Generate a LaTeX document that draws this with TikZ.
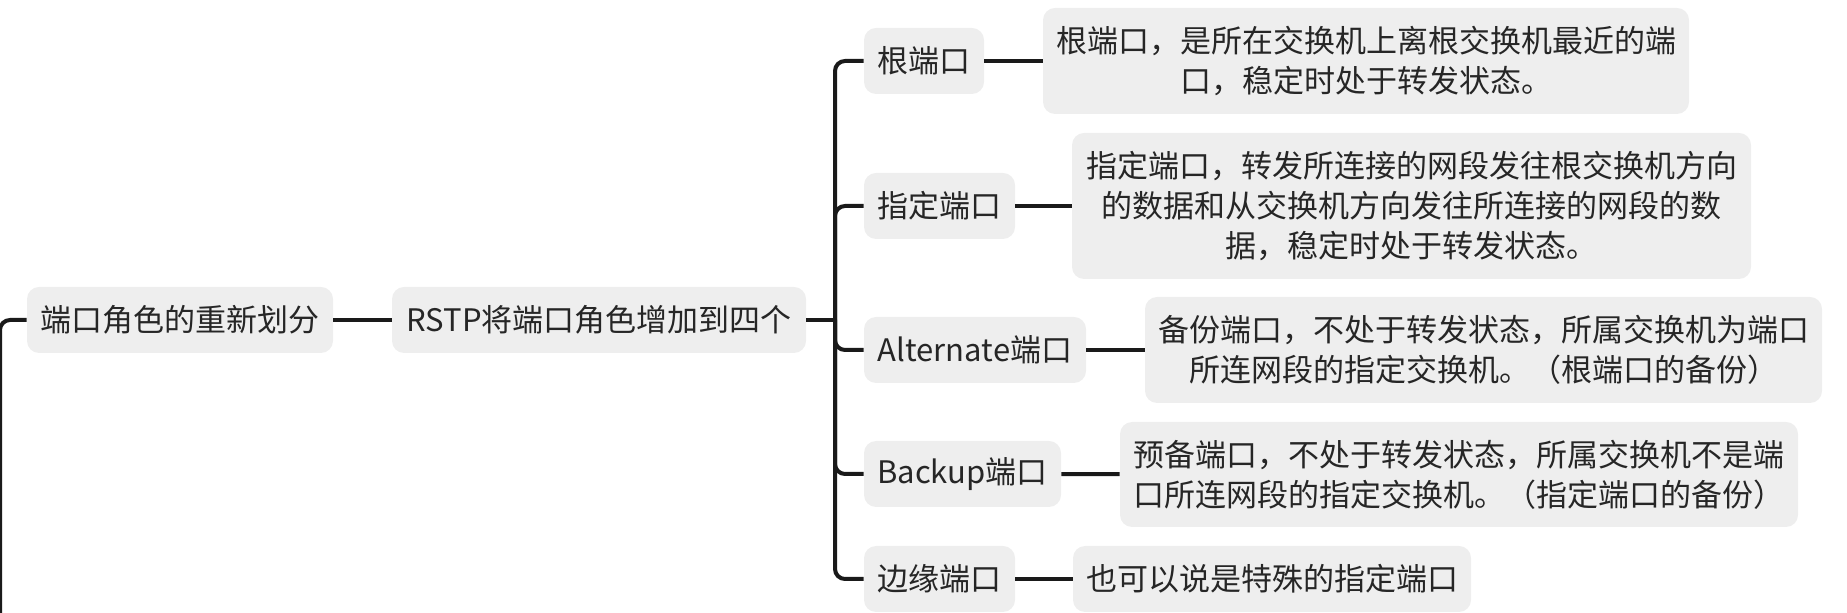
\documentclass[tikz,border=0pt]{standalone}
\usepackage{fontspec}
\setmainfont{Noto Sans CJK SC}
\definecolor{boxgray}{HTML}{EEEEEE}
\definecolor{inkgray}{HTML}{262626}
\definecolor{linkblack}{HTML}{1A1A1A}
\begin{document}
\begin{tikzpicture}[x=0.5pt,y=-0.5pt,
  topic/.style={fill=boxgray,rounded corners=6pt,inner sep=0pt,minimum height=33pt,text=inkgray,font=\fontsize{15.5pt}{20pt}\selectfont,align=center},
  link/.style={draw=linkblack,line width=2pt,rounded corners=5pt}]
\useasboundingbox (0,0) rectangle (1847,613);
\node[topic,minimum width=153pt] (r1) at (180,320) {端口角色的重新划分};
\node[topic,minimum width=207pt] (r2) at (599,320) {RSTP将端口角色增加到四个};
\node[topic,minimum width=60pt] (c1) at (924,61) {根端口};
\node[topic,minimum width=75.5pt] (c2) at (939.5,206) {指定端口};
\node[topic,minimum width=111pt] (c3) at (975,350) {Alternate端口};
\node[topic,minimum width=98.5pt] (c4) at (962.5,474) {Backup端口};
\node[topic,minimum width=75.5pt] (c5) at (939.5,579) {边缘端口};
\node[topic,minimum width=323pt,minimum height=53pt] (d1) at (1366,61) {根端口，是所在交换机上离根交换机最近的端\\口，稳定时处于转发状态。};
\node[topic,minimum width=339.5pt,minimum height=73pt] (d2) at (1411.5,206) {指定端口，转发所连接的网段发往根交换机方向\\的数据和从交换机方向发往所连接的网段的数\\据，稳定时处于转发状态。};
\node[topic,minimum width=338.5pt,minimum height=53pt] (d3) at (1483.5,350) {备份端口，不处于转发状态，所属交换机为端口\\所连网段的指定交换机。（根端口的备份）};
\node[topic,minimum width=339pt,minimum height=52.5pt] (d4) at (1459,474.5) {预备端口，不处于转发状态，所属交换机不是端\\口所连网段的指定交换机。（指定端口的备份）};
\node[topic,minimum width=199pt] (d5) at (1272,579) {也可以说是特殊的指定端口};
\coordinate (lb) at (0,640);
\coordinate (sp) at (835,320);
\draw[link] (r1.west) -| (lb);
\draw[link] (r1) -- (r2);
\draw[link] (r2) -- (sp);
\foreach \c in {c1,c2,c3,c4,c5}
  \draw[link] (sp) |- (\c.west);
\foreach \a/\b in {c1/d1,c2/d2,c3/d3,c4/d4,c5/d5}
  \draw[link] (\a) -- (\b);
\end{tikzpicture}
\end{document}
